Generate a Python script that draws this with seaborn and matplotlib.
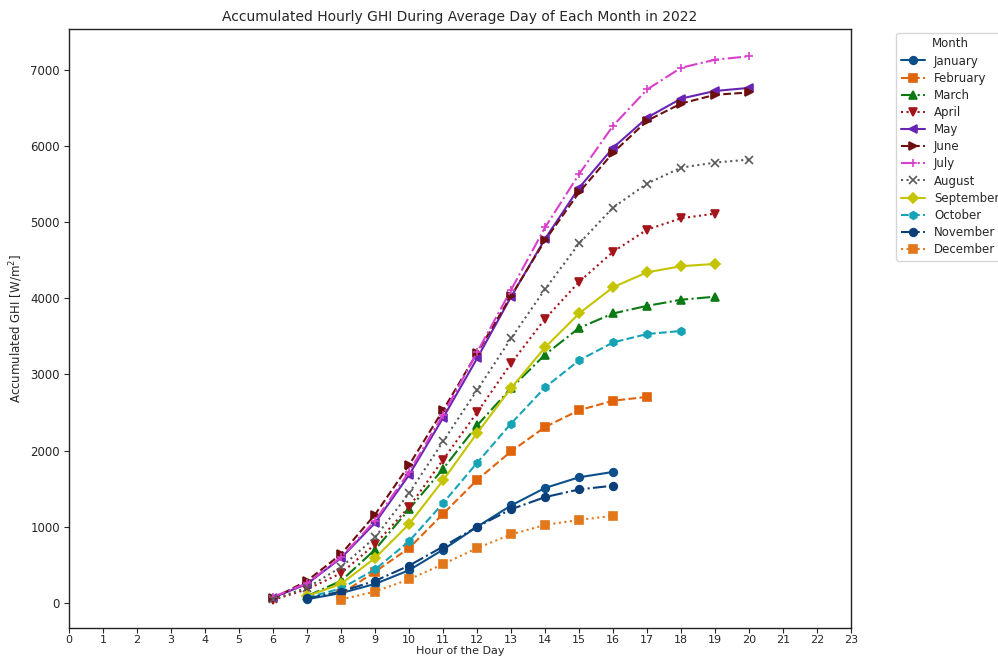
import matplotlib
matplotlib.use("Agg")
import matplotlib.pyplot as plt
import seaborn as sns
import pandas as pd

# Accumulated GHI [W/m^2] per hour for the average day of each month
months = ["January", "February", "March", "April", "May", "June",
          "July", "August", "September", "October", "November", "December"]

hours_january = [7, 8, 9, 10, 11, 12, 13, 14, 15, 16]
ghi_january = [50, 130, 250, 430, 700, 1000, 1280, 1510, 1650, 1720]

hours_february = [8, 9, 10, 11, 12, 13, 14, 15, 16, 17]
ghi_february = [120, 410, 720, 1170, 1615, 1990, 2310, 2530, 2655, 2705]

hours_march = [7, 8, 9, 10, 11, 12, 13, 14, 15, 16, 17, 18, 19]
ghi_march = [90, 290, 700, 1230, 1760, 2330, 2820, 3260, 3610, 3800, 3900, 3980, 4020]

hours_april = [6, 7, 8, 9, 10, 11, 12, 13, 14, 15, 16, 17, 18, 19]
ghi_april = [40, 180, 390, 770, 1260, 1880, 2500, 3145, 3730, 4215, 4610, 4900, 5050, 5110]

hours_may = [6, 7, 8, 9, 10, 11, 12, 13, 14, 15, 16, 17, 18, 19, 20]
ghi_may = [70, 250, 590, 1050, 1680, 2430, 3210, 4020, 4780, 5450, 5975, 6370, 6620, 6720, 6760]

hours_june = [6, 7, 8, 9, 10, 11, 12, 13, 14, 15, 16, 17, 18, 19, 20]
ghi_june = [60, 290, 640, 1160, 1810, 2530, 3280, 4030, 4760, 5390, 5910, 6330, 6555, 6670, 6700]

hours_july = [6, 7, 8, 9, 10, 11, 12, 13, 14, 15, 16, 17, 18, 19, 20]
ghi_july = [80, 260, 600, 1080, 1720, 2470, 3290, 4110, 4930, 5630, 6265, 6740, 7025, 7130, 7175]

hours_august = [6, 7, 8, 9, 10, 11, 12, 13, 14, 15, 16, 17, 18, 19, 20]
ghi_august = [50, 200, 470, 860, 1440, 2120, 2795, 3473, 4120, 4718, 5190, 5505, 5714, 5780, 5819]

hours_september = [7, 8, 9, 10, 11, 12, 13, 14, 15, 16, 17, 18, 19]
ghi_september = [90, 250, 590, 1035, 1610, 2230, 2820, 3355, 3800, 4145, 4340, 4420, 4450]

hours_october = [7, 8, 9, 10, 11, 12, 13, 14, 15, 16, 17, 18]
ghi_october = [70, 190, 440, 810, 1310, 1840, 2355, 2830, 3185, 3420, 3530, 3570]

hours_november = [7, 8, 9, 10, 11, 12, 13, 14, 15, 16]
ghi_november = [60, 150, 290, 490, 740, 1000, 1230, 1390, 1490, 1540]

hours_december = [8, 9, 10, 11, 12, 13, 14, 15, 16]
ghi_december = [45, 150, 310, 510, 720, 900, 1025, 1090, 1145]

hour_ticks = list(range(0, 24))

series = {
    "January": (hours_january, ghi_january),
    "February": (hours_february, ghi_february),
    "March": (hours_march, ghi_march),
    "April": (hours_april, ghi_april),
    "May": (hours_may, ghi_may),
    "June": (hours_june, ghi_june),
    "July": (hours_july, ghi_july),
    "August": (hours_august, ghi_august),
    "September": (hours_september, ghi_september),
    "October": (hours_october, ghi_october),
    "November": (hours_november, ghi_november),
    "December": (hours_december, ghi_december),
}

styles = {
    "January":   dict(color="#0d4f8b", marker="o", linestyle="-"),
    "February":  dict(color="#e0640c", marker="s", linestyle="--"),
    "March":     dict(color="#0b7a12", marker="^", linestyle="-."),
    "April":     dict(color="#a3141b", marker="v", linestyle=":"),
    "May":       dict(color="#6a24b4", marker="<", linestyle="-"),
    "June":      dict(color="#6e0f0f", marker=">", linestyle="--"),
    "July":      dict(color="#d83fcb", marker="+", linestyle="-."),
    "August":    dict(color="#5a5a5a", marker="x", linestyle=":"),
    "September": dict(color="#c4c400", marker="D", linestyle="-"),
    "October":   dict(color="#17a3b6", marker="h", linestyle="--"),
    "November":  dict(color="#0b3f7a", marker="o", linestyle="-."),
    "December":  dict(color="#e2781c", marker="s", linestyle=":"),
}

sns.set_style("white")
plt.rcParams["font.family"] = ["DejaVu Sans"]

fig = plt.figure(figsize=(9.98, 6.64), dpi=100)
ax = fig.add_axes([0.069, 0.054, 0.784, 0.902])

for month in months:
    hrs, vals = series[month]
    df = pd.DataFrame({"Hour": hrs, "GHI": vals})
    st = styles[month]
    sns.lineplot(data=df, x="Hour", y="GHI", ax=ax, label=month,
                 color=st["color"], marker=st["marker"],
                 linestyle=st["linestyle"], linewidth=1.5,
                 markersize=5.5, markeredgecolor=st["color"],
                 markeredgewidth=1.2)

ax.set_xlim(0, 23)
ax.set_ylim(-330, 7530)
ax.set_xticks(hour_ticks)
ax.set_xticklabels([str(h) for h in hour_ticks], fontsize=8)
ax.set_yticks([0, 1000, 2000, 3000, 4000, 5000, 6000, 7000])
ax.tick_params(axis="y", labelsize=8.5, pad=3)
ax.tick_params(axis="x", pad=1.5)
ax.tick_params(axis="both", direction="out", length=3.5, width=0.8,
               bottom=True, left=True)
for s in ax.spines.values():
    s.set_linewidth(1.0)
    s.set_color("#222222")

ax.set_title("Accumulated Hourly GHI During Average Day of Each Month in 2022",
             fontsize=10, pad=6)
ax.set_xlabel("Hour of the Day", fontsize=8, labelpad=1)
ax.set_ylabel("Accumulated GHI [W/m$^2$]", fontsize=8.5)

ax.legend(title="Month", loc="upper left", bbox_to_anchor=(1.053, 1.0),
          fontsize=8.5, title_fontsize=8.5, frameon=True,
          handlelength=2.0, labelspacing=0.35, borderaxespad=0.3)

fig.savefig("out.png", dpi=100)
